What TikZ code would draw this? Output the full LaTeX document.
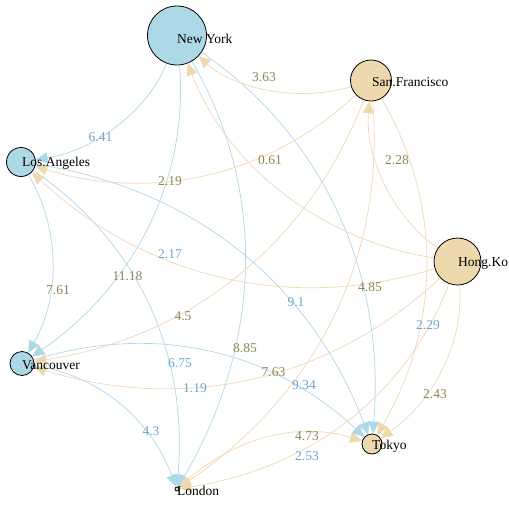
\documentclass[tikz,border=0pt]{standalone}
\usepackage{fontspec}
\setmainfont{Liberation Serif}
\usetikzlibrary{arrows.meta,calc}
\definecolor{lb}{HTML}{ADD8E6}
\definecolor{wh}{HTML}{EED8AE}
\definecolor{labblue}{HTML}{6CA6CD}
\definecolor{labolive}{HTML}{8B864E}
\tikzset{
  vtx/.style={circle, draw=black, line width=0.8pt, inner sep=0pt, minimum size=#1},
  bv/.style={vtx=#1, fill=lb},
  tv/.style={vtx=#1, fill=wh},
  vlab/.style={anchor=base west, inner sep=0pt, font=\fontsize{13.5}{16}\selectfont},
  elab/.style={inner sep=0pt, font=\fontsize{13.5}{16}\selectfont},
  elb/.style={elab, text=labblue},
  elo/.style={elab, text=labolive},
  eb/.style={draw=lb, line width=0.7pt, -{Triangle[length=12pt,width=11pt]}},
  et/.style={draw=wh, line width=0.7pt, -{Triangle[length=12pt,width=11pt]}}
}
\newcommand{\edg}[3]{%
  \coordinate (q-#2-#3) at ($(#2)!0.5!(#3)!0.58!90:(#3)$);
  \draw[#1] (#2) .. controls ($(#2)!0.6667!(q-#2-#3)$) and ($(#3)!0.6667!(q-#2-#3)$) .. (#3);}
\begin{document}
\begin{tikzpicture}[x=1pt,y=-1pt]
\useasboundingbox (0,0) rectangle (509,504);
% vertices
\node[bv=59pt] (ny) at (177,35.5) {};
\node[tv=41pt] (sf) at (371,80.5) {};
\node[bv=29pt] (la) at (21,162) {};
\node[tv=47pt] (hk) at (457.5,261.5) {};
\node[bv=24pt] (van) at (22,363.5) {};
\node[tv=20pt] (tk) at (372,444) {};
\node[tv=4pt] (lon) at (177,489) {};
% edges
\edg{eb}{ny}{la}
\edg{eb}{ny}{van}
\edg{eb}{ny}{lon}
\edg{eb}{ny}{tk}
\edg{eb}{la}{van}
\edg{eb}{la}{lon}
\edg{eb}{la}{tk}
\edg{eb}{van}{lon}
\edg{eb}{van}{tk}
\edg{et}{sf}{ny}
\edg{et}{sf}{la}
\edg{et}{sf}{van}
\edg{et}{sf}{lon}
\edg{et}{sf}{tk}
\edg{et}{hk}{ny}
\edg{et}{hk}{sf}
\edg{et}{hk}{la}
\edg{et}{hk}{van}
\edg{et}{hk}{lon}
\edg{et}{hk}{tk}
\edg{et}{lon}{tk}
% edge labels
\node[elb] (l641) at (100.5,137) {6.41};
\node[elo] (l363) at (264,77) {3.63};
\node[elo] (l061) at (270,160) {0.61};
\node[elo] (l219) at (170,181) {2.19};
\node[elo] (l228) at (397,160) {2.28};
\node[elb] (l217) at (170,254) {2.17};
\node[elo] (l1118) at (127.5,276) {11.18};
\node[elo] (l761) at (58,290) {7.61};
\node[elo] (l45) at (183,316) {4.5};
\node[elb] (l91) at (296,302) {9.1};
\node[elo] (l485) at (370,287) {4.85};
\node[elb] (l229) at (428,325) {2.29};
\node[elb] (l675) at (180,363) {6.75};
\node[elo] (l885) at (245,348) {8.85};
\node[elo] (l763) at (273.5,372) {7.63};
\node[elb] (l934) at (304,385) {9.34};
\node[elb] (l119) at (195,388) {1.19};
\node[elo] (l243) at (435,394) {2.43};
\node[elb] (l43) at (151,431) {4.3};
\node[elo] (l473) at (307,436) {4.73};
\node[elb] (l253) at (307,456) {2.53};
% vertex labels
\node[vlab] (tny) at (177,43) {New York};
\node[vlab] (tsf) at (372,86.7) {San.Francisco};
\node[vlab] (tla) at (22,166) {Los.Angeles};
\node[vlab] (thk) at (458,266.7) {Hong.Ko};
\node[vlab] (tvan) at (22,369) {Vancouver};
\node[vlab] (ttk) at (372,449.3) {Tokyo};
\node[vlab] (tlon) at (177,495) {London};
\end{tikzpicture}
\end{document}
